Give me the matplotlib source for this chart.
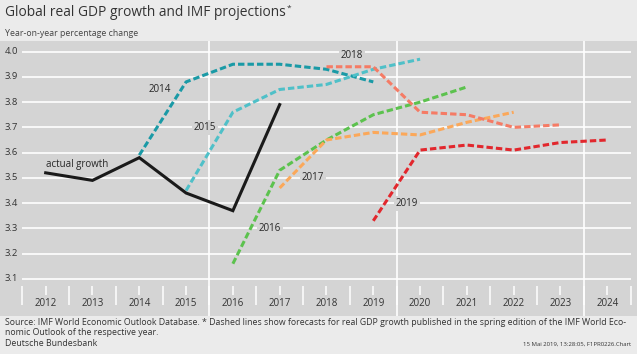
import matplotlib
matplotlib.use("Agg")
import matplotlib.pyplot as plt

plt.rcParams["font.family"] = ["Open Sans", "DejaVu Sans"]

# --- data ---
actual_years = [2012, 2013, 2014, 2015, 2016, 2017]
actual_growth = [3.52, 3.49, 3.58, 3.44, 3.37, 3.79]

f2014_years = [2014, 2015, 2016, 2017, 2018, 2019]
f2014 = [3.59, 3.88, 3.95, 3.95, 3.93, 3.88]

f2015_years = [2015, 2016, 2017, 2018, 2019, 2020]
f2015 = [3.45, 3.76, 3.85, 3.87, 3.93, 3.97]

f2016_years = [2016, 2017, 2018, 2019, 2020, 2021]
f2016 = [3.16, 3.53, 3.65, 3.75, 3.80, 3.86]

f2017_years = [2017, 2018, 2019, 2020, 2021, 2022]
f2017 = [3.46, 3.65, 3.68, 3.67, 3.72, 3.76]

f2018_years = [2018, 2019, 2020, 2021, 2022, 2023]
f2018 = [3.94, 3.94, 3.76, 3.75, 3.70, 3.71]

f2019_years = [2019, 2020, 2021, 2022, 2023, 2024]
f2019 = [3.33, 3.61, 3.63, 3.61, 3.64, 3.65]

y_ticks = [3.1, 3.2, 3.3, 3.4, 3.5, 3.6, 3.7, 3.8, 3.9, 4.0]
x_years = list(range(2012, 2025))

FIG_BG = "#ebebeb"
AX_BG = "#d4d4d4"
TXT = "#333333"

fig = plt.figure(figsize=(6.37, 3.54), dpi=100, facecolor=FIG_BG)
ax = fig.add_axes([0, 38 / 354, 1, 275 / 354], facecolor=AX_BG)
ax.set_xlim(2011.024, 2024.635)
ax.set_ylim(2.953, 4.042)
for s in ax.spines.values():
    s.set_visible(False)
ax.set_xticks([])
ax.set_yticks([])

# grid
ax.hlines(y_ticks, 2011.5, 2024.5, color="white", lw=1.2, zorder=1)
for xv in [2015.5, 2019.5, 2023.5]:
    ax.axvline(xv, color="white", lw=1.2, zorder=1)

# y labels inside the plot
for yv in y_ticks:
    ax.text(2011.13, yv, f"{yv:.1f}", ha="left", va="center",
            fontsize=6.8, color=TXT, zorder=3)

# x axis: separators, centre ticks and year labels
ax.vlines([y - 0.5 for y in x_years] + [2024.5], 2.997, 3.072,
          color="white", lw=1.1, zorder=1)
ax.vlines(x_years, 3.036, 3.072, color="white", lw=1.1, zorder=1)
for yr in x_years:
    ax.text(yr, 3.003, str(yr), ha="center", va="center",
            fontsize=7, color=TXT, zorder=3)

# forecast lines
dash = (0, (2.1, 1.0))
lw = 2.2
series = [
    (f2014_years, f2014, "#1a9aa6"),
    (f2015_years, f2015, "#4fc0c8"),
    (f2016_years, f2016, "#5cc24e"),
    (f2017_years, f2017, "#fba85a"),
    (f2018_years, f2018, "#f57b65"),
    (f2019_years, f2019, "#e2272d"),
]
for xs, ys, c in series:
    ax.plot(xs, ys, color=c, lw=lw, ls=dash, zorder=4,
            solid_capstyle="butt", dash_capstyle="butt")
ax.plot(actual_years, actual_growth, color="#1a1a1a", lw=2.2, zorder=5,
        solid_joinstyle="miter")

# line labels
bbox = dict(facecolor=AX_BG, edgecolor="none", pad=1.5)
labels = [
    ("2014", 2014.44, 3.848),
    ("2015", 2015.40, 3.698),
    ("actual growth", 2012.68, 3.551),
    ("2018", 2018.54, 3.983),
    ("2017", 2017.71, 3.500),
    ("2016", 2016.79, 3.298),
    ("2019", 2019.72, 3.400),
]
for txt, xv, yv in labels:
    ax.text(xv, yv, txt, ha="center", va="center", fontsize=7,
            color="#262626", bbox=bbox, zorder=3)

# titles
title = fig.text(5 / 637, 1 - 13 / 354, "Global real GDP growth and IMF projections",
                 ha="left", va="center", fontsize=9.9, color=TXT)
fig.canvas.draw()
bb = title.get_window_extent(fig.canvas.get_renderer())
fig.text(bb.x1 / fig.bbox.width + 1 / 637, 1 - 8 / 354, "*", ha="left", va="center",
         fontsize=6, color=TXT)
fig.text(5 / 637, 1 - 33 / 354, "Year-on-year percentage change",
         ha="left", va="center", fontsize=6.3, color="#444444")

# footer
fig.text(5 / 637, 1 - 322.5 / 354,
         "Source: IMF World Economic Outlook Database. * Dashed lines show forecasts for "
         "real GDP growth published in the spring edition of the IMF World Eco-",
         ha="left", va="center", fontsize=6.35, color=TXT)
fig.text(5 / 637, 1 - 332.5 / 354, "nomic Outlook of the respective year.",
         ha="left", va="center", fontsize=6.35, color=TXT)
fig.text(5 / 637, 1 - 343.5 / 354, "Deutsche Bundesbank",
         ha="left", va="center", fontsize=6.35, color=TXT)
fig.text(631 / 637, 1 - 344 / 354, "15 Mai 2019, 13:28:05, F1PR0226.Chart",
         ha="right", va="center", fontsize=4.3, color=TXT)

fig.savefig("out.png", dpi=100, facecolor=FIG_BG)
